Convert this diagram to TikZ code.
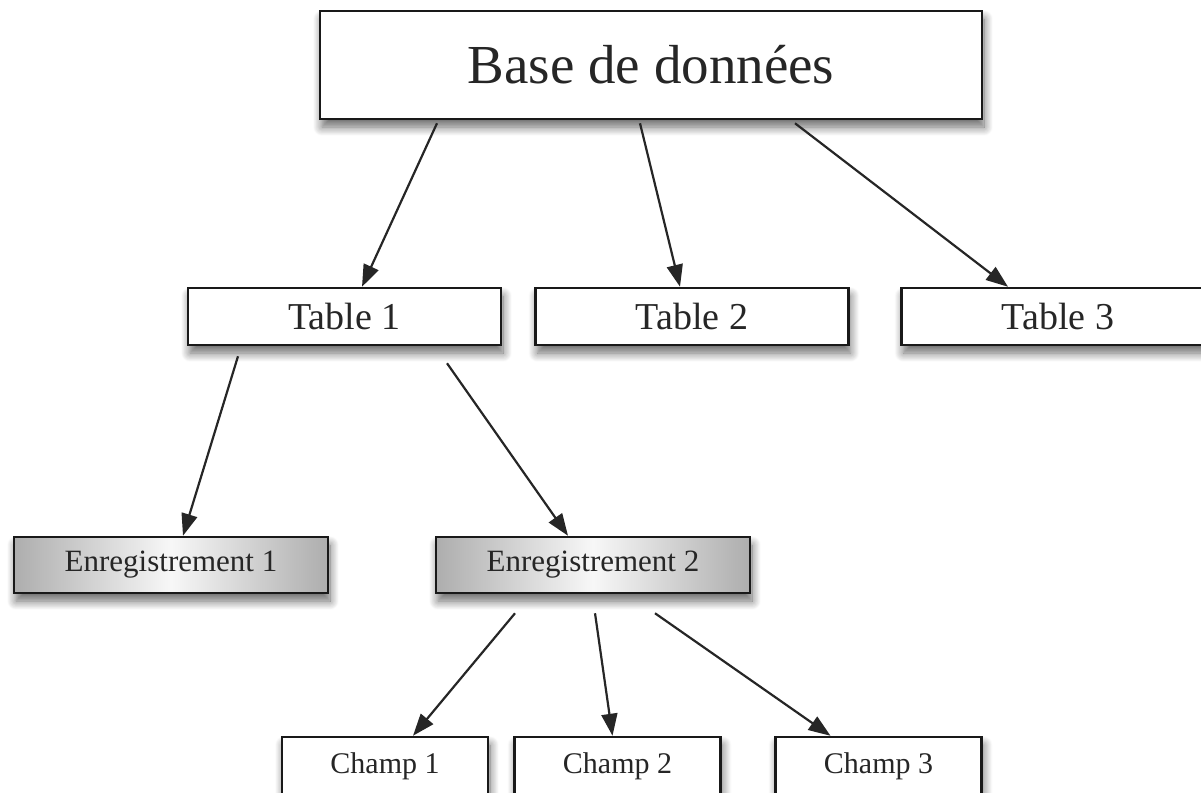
\documentclass[tikz,border=0pt]{standalone}
\usepackage{fontspec}
\setmainfont{Liberation Serif}
\usetikzlibrary{arrows.meta,shadows.blur}
\tikzstyle{box} = [rectangle, draw=black!90, line width=2.5pt, fill=white, inner sep=0pt, text=black!85, blur shadow={shadow xshift=2pt, shadow yshift=-8pt, shadow blur steps=12, shadow blur radius=9pt, shadow opacity=60}]
\tikzstyle{dbbox} = [box, minimum width=662pt, minimum height=108pt, font=\fontsize{55}{60}\selectfont]
\tikzstyle{tablebox} = [box, minimum width=313pt, minimum height=57pt, font=\fontsize{38}{42}\selectfont]
\tikzstyle{recbox} = [box, minimum width=314pt, minimum height=56pt, left color=black!32, right color=black!32, middle color=black!3, font=\fontsize{31}{34}\selectfont]
\tikzstyle{fieldbox} = [box, minimum width=206pt, minimum height=58pt, font=\fontsize{30}{33}\selectfont]

\begin{document}
\begin{tikzpicture}[x=1pt,y=-1pt,->,>={Stealth[length=22pt,width=16pt,inset=0pt]},line width=2.2pt,black!85]
  \useasboundingbox (0,0) rectangle (1201,792);
  \node[dbbox] (Base) at (651,65) {Base de données};
  \node[tablebox] (T1) at (344.5,316.5) {Table 1};
  \node[tablebox] (T2) [right of=T1, node distance=347.5pt] {Table 2};
  \node[tablebox] (T3) [right of=T2, node distance=366pt] {Table 3};
  \node[recbox] (E1) at (171,565) {Enregistrement 1};
  \node[recbox] (E2) [right of=E1, node distance=422pt] {Enregistrement 2};
  \node[fieldbox] (C1) at (385,766) {Champ 1};
  \node[fieldbox] (C2) [right of=C1, node distance=232.5pt] {Champ 2};
  \node[fieldbox] (C3) [right of=C2, node distance=261pt] {Champ 3};

  \path ([xshift=-214pt,yshift=-3pt]Base.south) edge ([xshift=17.5pt]T1.north);
  \path ([xshift=-11pt,yshift=-3pt]Base.south) edge ([xshift=-12pt]T2.north);
  \path ([xshift=144pt,yshift=-3pt]Base.south) edge ([xshift=-50pt]T3.north);
  \path ([xshift=-106.5pt,yshift=-10pt]T1.south) edge ([xshift=12pt]E1.north);
  \path ([xshift=102.5pt,yshift=-17pt]T1.south) edge ([xshift=-25pt]E2.north);
  \path ([xshift=-78pt,yshift=-19pt]E2.south) edge ([xshift=28pt]C1.north);
  \path ([xshift=2pt,yshift=-19pt]E2.south) edge ([xshift=-5pt]C2.north);
  \path ([xshift=62pt,yshift=-19pt]E2.south) edge ([xshift=-48pt]C3.north);
\end{tikzpicture}
\end{document}
